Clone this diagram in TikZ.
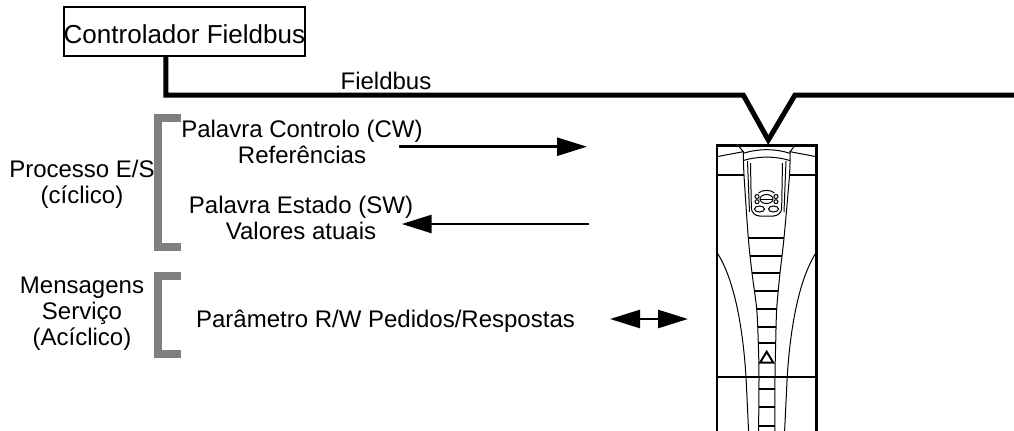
\documentclass[tikz,border=0pt]{standalone}
\usepackage{fontspec}
\setmainfont{Liberation Sans}
\usetikzlibrary{arrows.meta}

\begin{document}
\begin{tikzpicture}[x=0.5pt, y=-0.5pt,
  >={Triangle[length=15pt, width=9pt]},
  txt/.style={font=\fontsize{12}{12.8}\selectfont, inner sep=0pt, anchor=base, align=center},
  msg/.style={line width=1.3pt},
  bus/.style={line width=2.5pt, line join=miter},
  brk/.style={draw=gray, line width=4pt},
  drv/.style={line width=1.2pt},
  rung/.style={line width=1pt},
  fine/.style={line width=0.5pt}]
\useasboundingbox (0, 0) rectangle (1014, 430);
\clip (0, 0) rectangle (1014, 430);

\node [draw, line width=1pt, minimum width=120pt, minimum height=24.3pt, inner sep=0pt,
  font=\fontsize{13}{15}\selectfont, text height=11.6pt, text depth=0pt] (ctrl) at (184.4, 31.7) {Controlador Fieldbus};

\coordinate (tap) at (165.8, 95);
\coordinate (vl) at (743.3, 95);
\coordinate (vtip) at (768.3, 140);
\coordinate (vr) at (795, 95);
\coordinate (busend) at (1020, 95);
\draw [bus] (ctrl.south -| tap) -- (tap) -- (vl) -- (vtip) -- (vr) -- (busend);
\node [txt] (buslbl) at (386, 89) {Fieldbus};

\draw [brk] (181, 117.8) -- (157.8, 117.8) -- (157.8, 247) -- (181, 247);
\draw [brk] (181, 276.3) -- (157.8, 276.3) -- (157.8, 353.7) -- (181, 353.7);

\node [txt] (cyc) at (82, 203) {Processo E/S\\(cíclico)};
\node [txt] (acyc) at (82, 345) {Mensagens\\Serviço\\(Acíclico)};

\node [txt] (cw) at (302, 163.5) {Palavra Controlo (CW)\\Referências};
\node [txt] (sw) at (301, 239.3) {Palavra Estado (SW)\\Valores atuais};
\node [txt] (par) at (385.5, 327) {Parâmetro R/W Pedidos/Respostas};

\coordinate (cwa) at (399, 146.7);
\coordinate (cwb) at (587, 146.7);
\coordinate (swa) at (589, 224);
\coordinate (swb) at (401.7, 224);
\coordinate (para) at (610, 319);
\coordinate (parb) at (688, 319);
\draw [->, msg] (cwa) -- (cwb);
\draw [->, msg] (swa) -- (swb);
\draw [<->, msg] (para) -- (parb);

\draw [drv] (716.7, 440) -- (716.7, 145.5) -- (816.5, 145.5) -- (816.5, 440);
\draw [drv] (716.7, 175) -- (743.6, 175);
\draw [drv] (789.6, 175) -- (816.5, 175);
\draw [drv] (716.7, 376.7) -- (816.5, 376.7);

\draw [fine] (716.7, 156.7) -- (743.3, 151.7) -- (738.3, 145.5);
\draw [fine] (816.5, 156.7) -- (790, 151.7) -- (795, 145.5);
\draw [fine] (743.3, 153.3) .. controls (758, 148.5) and (775, 148.5) .. (790, 153.3);
\draw [fine] (743.3, 160.5) .. controls (758, 156) and (775, 156) .. (790, 160.5);

\draw [fine] plot [smooth] coordinates {(743.3, 151.7) (744, 175) (748.3, 238) (752, 273) (756.7, 309) (758.3, 343) (759, 377) (758.5, 440)};
\draw [fine] plot [smooth] coordinates {(790, 151.7) (789.5, 175) (784, 238) (780, 273) (776.7, 309) (775.7, 343) (775, 377) (775, 440)};

\draw [fine] (747.5, 161) -- (749.5, 212);
\draw [fine] (786, 161) -- (784, 212);
\draw [fine, rounded corners=4] (750.5, 163) -- (751.5, 216) -- (781.5, 216) -- (782.5, 163);

\draw [fine] (766.5, 199) ellipse [x radius=6.5, y radius=4.5];
\draw [fine] (760, 199) -- (773, 199);
\draw [fine] (758.5, 193) .. controls (762, 189.5) and (771, 189.5) .. (774.5, 193);
\draw [fine] (757, 196.5) circle [radius=2];
\draw [fine] (757, 201.7) circle [radius=2];
\draw [fine] (776, 196.5) circle [radius=2];
\draw [fine] (776, 201.7) circle [radius=2];
\draw [fine] (759.5, 209) ellipse [x radius=5, y radius=3];
\draw [fine] (773.5, 209) ellipse [x radius=5, y radius=3];

\draw [fine] (716.7, 252) .. controls (735, 280) and (743, 330) .. (746, 376.7) -- (749, 440);
\draw [fine] (816.5, 252) .. controls (798.2, 280) and (790.2, 330) .. (787.2, 376.7) -- (784.2, 440);

\foreach \y/\l/\r in {238/748.3/784, 256/750/781.7, 273.3/751.7/780, 290.7/755/778.3,
  309/756.7/776.7, 326.7/757.7/775.7, 343.3/758.3/775.7, 389/758.5/775, 406.7/758.5/775, 425.5/758.5/775}
  \draw [rung] (\l, \y) -- (\r, \y);

\draw [rung] (766.7, 351.7) -- (760, 362.7) -- (773.3, 362.7) -- cycle;
\end{tikzpicture}
\end{document}
